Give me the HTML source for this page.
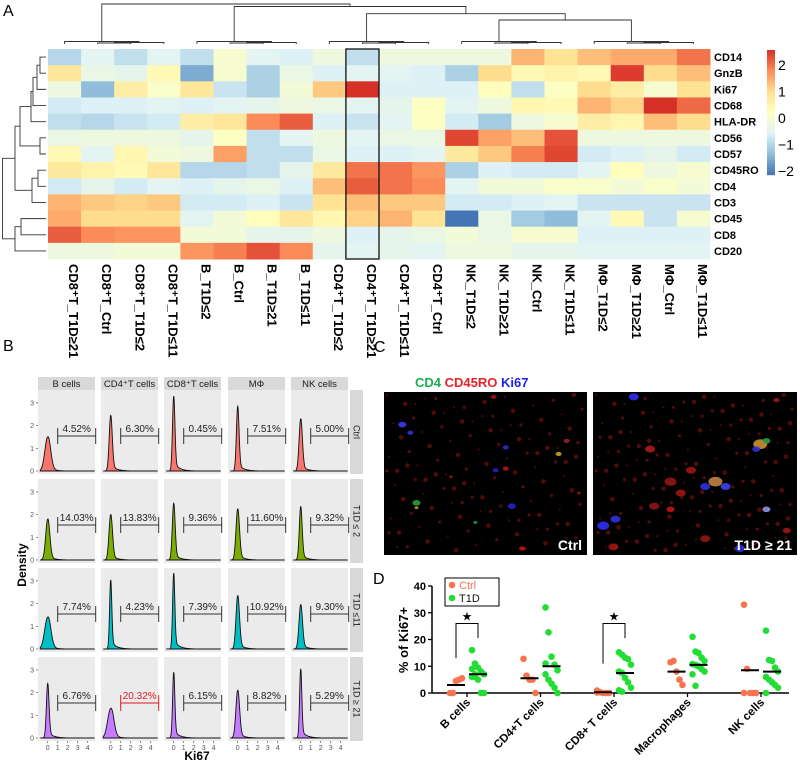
<!DOCTYPE html>
<html><head><meta charset="utf-8"><style>
body{margin:0;background:#fff;}
svg{display:block;font-family:"Liberation Sans",Arial,sans-serif;}
</style></head><body>
<svg id="fig" width="800" height="761" viewBox="0 0 800 761">
<g id="hm"></g>
<g id="pb"></g>
<g id="pc"></g>
<g id="pd"></g>
</svg>
<script>
// ---------- Panel A data ----------
const hmCols = ["CD8⁺T_T1D≥21","CD8⁺T_Ctrl","CD8⁺T_T1D≤2","CD8⁺T_T1D≤11","B_T1D≤2","B_Ctrl","B_T1D≥21","B_T1D≤11","CD4⁺T_T1D≤2","CD4⁺T_T1D≥21","CD4⁺T_T1D≤11","CD4⁺T_Ctrl","NK_T1D≤2","NK_T1D≥21","NK_Ctrl","NK_T1D≤11","MΦ_T1D≤2","MΦ_T1D≥21","MΦ_Ctrl","MΦ_T1D≤11"];
const hmRows = ["CD14","GnzB","Ki67","CD68","HLA-DR","CD56","CD57","CD45RO","CD4","CD3","CD45","CD8","CD20"];
const hmVals = [
[-1.1,-0.6,-1.0,-0.6,-1.0,-0.1,-0.6,-0.7,-0.3,-1.0,-0.3,-0.3,-0.3,-0.3,1.4,0.9,1.3,1.5,1.5,2.0],
[0.8,-0.4,-0.5,0.3,-1.7,-0.1,-1.2,-0.4,-0.7,-0.6,-0.6,-0.7,-1.2,1.0,0.3,0.5,0.3,2.5,1.0,1.3],
[-0.3,-1.5,0.6,0.0,0.8,-0.9,-1.2,-0.2,1.2,2.6,-0.7,-0.7,-0.7,0.2,-1.0,0.1,1.0,0.6,-0.1,0.9],
[-0.8,-0.7,-0.7,-0.6,-0.7,-0.6,-0.5,-0.3,-0.4,-0.6,-0.5,0.1,-0.6,-0.3,0.4,0.3,1.4,1.1,2.6,2.1],
[-1.0,-1.1,-0.9,-0.8,0.6,0.8,1.8,2.2,-0.7,-0.9,-0.6,0.1,-0.8,-1.3,-0.3,-0.1,0.6,0.4,1.3,1.0],
[-0.4,-0.3,-0.3,-0.3,-0.5,0.1,-1.0,-0.6,-0.3,-0.6,-0.4,-0.4,2.4,1.6,1.3,2.3,-0.3,-0.3,-0.3,-0.3],
[0.3,-0.6,0.4,-0.2,-0.3,1.6,-1.0,-1.0,-0.4,-0.7,-0.7,-0.6,0.7,1.2,1.9,2.4,-0.8,-0.7,-0.5,-0.8],
[0.7,0.5,0.3,0.8,-1.1,-1.1,-1.0,-0.5,0.7,2.0,2.0,1.7,-1.2,-0.7,-0.8,-0.8,-0.6,0.2,-0.3,-0.1],
[-0.8,-0.5,-0.8,-0.6,-0.7,-0.5,-0.4,-0.7,1.3,2.2,2.0,1.8,-0.6,-0.2,-0.2,0.0,0.0,-0.2,0.0,-0.2],
[1.4,1.2,1.1,1.2,-0.8,-0.8,-0.7,-0.9,0.9,1.3,1.2,1.2,-0.8,-0.8,-0.7,-0.6,-0.9,-0.9,-0.9,-0.9],
[1.5,1.0,1.0,1.0,-0.6,-0.2,0.2,0.8,0.4,1.1,1.4,0.9,-2.3,-0.4,-1.3,-1.5,-0.6,0.3,-0.9,-0.1],
[2.2,1.8,1.7,1.7,-0.2,-0.2,-0.5,-0.5,-0.3,-0.7,-0.5,-0.4,-0.2,-0.4,-0.1,-0.1,-0.7,-0.7,-0.7,-0.7],
[-0.3,-0.3,-0.2,-0.2,1.7,1.9,2.3,1.8,-0.5,-0.6,-0.5,-0.6,-0.3,-0.3,-0.5,-0.5,-0.6,-0.6,-0.6,-0.6]];
const cbTicks = [2,1,0,-1,-2];

// ---------- Panel B data ----------
const cellTypes = ["B cells","CD4⁺T cells","CD8⁺T cells","MΦ","NK cells"];
const groups = ["Ctrl","T1D ≤ 2","T1D ≤11","T1D ≥ 21"];
const peakH = [[1.5,2.45,3.3,2.85,2.3],[1.8,2.0,2.5,2.25,2.35],[1.4,3.05,3.35,2.35,1.95],[2.4,1.3,2.9,2.1,3.05]];
const peakW = [[0.28,0.15,0.12,0.13,0.16],[0.2,0.17,0.14,0.17,0.14],[0.3,0.11,0.11,0.17,0.17],[0.13,0.3,0.11,0.18,0.11]];
const pctLabels = [["4.52%","6.30%","0.45%","7.51%","5.00%"],["14.03%","13.83%","9.36%","11.60%","9.32%"],["7.74%","4.23%","7.39%","10.92%","9.30%"],["6.76%","20.32%","6.15%","8.82%","5.29%"]];
const densTicks = [0,1,2,3];
const ki67Ticks = [0,1,2,3,4];

// ---------- Panel D data ----------
const dCats = ["B cells","CD4+T cells","CD8+ T cells","Macrophages","NK cells"];
const ctrlVals = [[0,0,4.5,5,5.5],[12.8,6.5,5,5,0],[0.9,0.3,0,0,0,0.2],[11.5,12,8,5,3],[33,9,0,0,0,0]];
const t1dVals = [[16,11,9.5,8,7,6,6,5,0,0,9,7],[32,22.7,13.6,10.6,8.5,7,5,3.5,2,0,11],[15.2,14.3,13.2,12.7,10.6,8,7.5,5.7,4,2,1,0.5],[21,15.5,15,13.2,12,10.8,10.5,10,9,8,7,2.7],[23.3,12.3,12,9.5,8,6,5,4,3,2,0]];
const ctrlMeans = [3,5.5,0.3,8,8.5];
const t1dMeans = [7,10,7.5,10.5,8];
const dTicks = [0,10,20,30,40];

const NS="http://www.w3.org/2000/svg";
function mk(tag,attrs,parent,txt){const e=document.createElementNS(NS,tag);for(const k in attrs)e.setAttribute(k,attrs[k]);if(txt!==undefined)e.textContent=txt;parent.appendChild(e);return e;}

// ===== Panel A =====
const hm=document.getElementById('hm');
let t=mk('text',{x:3,y:16,'font-size':16},hm,'A');


const HX=48,HY=49,CW=(710-48)/20,RH=(259-49)/13;
const pal=["#4575B4","#91BFDB","#E0F3F8","#FFFFBF","#FEE090","#FC8D59","#D73027"];
const vmin=-2.3,vmax=2.6;
function hx(c){return [parseInt(c.slice(1,3),16),parseInt(c.slice(3,5),16),parseInt(c.slice(5,7),16)];}
function col(v){let f=(v-vmin)/(vmax-vmin);f=Math.max(0,Math.min(1,f))*6;const i=Math.min(5,Math.floor(f)),r=f-i;const a=hx(pal[i]),b=hx(pal[i+1]);return 'rgb('+a.map((x,k)=>Math.round(x+(b[k]-x)*r)).join(',')+')';}
hmRows.forEach((rn,r)=>{
  hmCols.forEach((cn,c)=>{
    const e=mk('rect',{x:HX+c*CW,y:HY+r*RH,width:CW+0.5,height:RH+0.5,fill:col(hmVals[r][c])},hm);
    
    
  });
  const l=mk('text',{x:714,y:HY+r*RH+RH/2+4,'font-size':11,'font-weight':'bold'},hm,rn);
  
  
});
hmCols.forEach((cn,c)=>{
  const x=HX+c*CW+CW/2+4.5;
  const l=mk('text',{x:x,y:264,'font-size':13,'font-weight':'bold',transform:'rotate(90 '+x+' 264)'},hm,cn);
  
  
});
let box=mk('rect',{x:HX+9*CW,y:HY,width:CW,height:259-HY,fill:'none',stroke:'#111','stroke-width':1.3},hm);


const cb=mk('g',{},hm);


for(let i=0;i<125;i++){const v=vmax-(vmax-vmin)*i/124;mk('rect',{x:767,y:50+i,width:8,height:1.2,fill:col(v)},cb);}
cbTicks.forEach(v=>{const y=118-v*26.5;const l=mk('text',{x:778,y:y+5,'font-size':14},cb,v<0?'−'+(-v):String(v));

});
const dg=mk('g',{stroke:'#333','stroke-width':0.9,fill:'none'},hm);


function cx(c){return HX+c*CW+CW/2;}
function uL(x1,y1,x2,y2,yt){mk('path',{d:`M${x1} ${y1}V${yt}H${x2}V${y2}`},dg);}
const gc=[];
for(let g=0;g<5;g++){const b=g*4;
  uL(cx(b+1),44,cx(b+2),44,43);
  const m12=(cx(b+1)+cx(b+2))/2;
  uL(m12,43,cx(b+3),44,42.5);
  const m=(m12+cx(b+3))/2;
  uL(cx(b),44,m,42.5,41.5);
  gc.push((cx(b)+m)/2);}
uL(gc[3],41.5,gc[4],41.5,20);
const nkm=(gc[3]+gc[4])/2;
uL(gc[2],41.5,nkm,20,13.7);
const r2=(gc[2]+nkm)/2;
uL(gc[1],41.5,r2,13.7,6.5);
const r1=(gc[1]+r2)/2;
uL(gc[0],41.5,r1,6.5,4);
const lg=mk('g',{stroke:'#333','stroke-width':0.9,fill:'none'},hm);


function ry(r){return HY+r*RH+RH/2;}
function cL(y1,x1,y2,x2,xt){mk('path',{d:`M${x1} ${y1}H${xt}V${y2}H${x2}`},lg);}
cL(ry(0),46,ry(1),46,40);let a=(ry(0)+ry(1))/2;
cL(a,40,ry(2),46,37);a=(a+ry(2))/2;
cL(a,37,ry(3),46,33);a=(a+ry(3))/2;
cL(a,33,ry(4),46,31);const u5=(a+ry(4))/2;
cL(ry(5),46,ry(6),46,40);const u2=(ry(5)+ry(6))/2;
cL(u5,31,u2,40,20);const U=(u5+u2)/2;
cL(ry(7),46,ry(8),46,38);let b1=(ry(7)+ry(8))/2;
cL(b1,38,ry(9),46,32);const L1=(b1+ry(9))/2;
cL(U,20,L1,32,15);const UL=(U+L1)/2;
cL(ry(10),46,ry(11),46,21);let c1=(ry(10)+ry(11))/2;
cL(c1,21,ry(12),46,15);const L2=(c1+ry(12))/2;
cL(UL,15,L2,15,2.5);

// ===== Panel B =====
const pb=document.getElementById('pb');
t=mk('text',{x:3,y:351,'font-size':16},pb,'B');


const colL=[38,101,164,228,291],rowT=[390,479,568,657],PW=57,PH=84;
const fills=["#F8766D","#7CAE00","#00BFC4","#C77CFF"];
cellTypes.forEach((ct,c)=>{
  const s=mk('rect',{x:colL[c],y:377,width:PW,height:13,fill:'#d9d9d9'},pb);
  
  
  const l=mk('text',{x:colL[c]+PW/2,y:387,'font-size':9.5,'text-anchor':'middle',fill:'#1a1a1a'},pb,ct);
  
  
  ki67Ticks.forEach(k=>{const x=colL[c]+9.7+k*10;
    mk('line',{x1:x,x2:x,y1:741,y2:743,stroke:'#555','stroke-width':0.7},pb);
    const tl=mk('text',{x:x,y:750,'font-size':7,'text-anchor':'middle',fill:'#555'},pb,String(k));
    
    });
});
groups.forEach((g,r)=>{
  const s=mk('rect',{x:350,y:rowT[r],width:13,height:PH,fill:'#d9d9d9'},pb);
  
  
  const yc=rowT[r]+PH/2;
  const l=mk('text',{x:356.5,y:yc,'font-size':9,'text-anchor':'middle',transform:`rotate(90 356.5 ${yc}) translate(0 3)`,fill:'#1a1a1a'},pb,g);
  
  
  densTicks.forEach(d=>{const y=rowT[r]+81-d*22.7;
    mk('line',{x1:36,x2:38,y1:y,y2:y,stroke:'#555','stroke-width':0.7},pb);
    const tl=mk('text',{x:34,y:y+2.5,'font-size':7,'text-anchor':'end',fill:'#555'},pb,String(d));
    
    });
  cellTypes.forEach((ct,c)=>{
    const px=colL[c],py=rowT[r];
    const bg=mk('rect',{x:px,y:py,width:PW,height:PH,fill:'#ebebeb'},pb);
    
    
    const X=k=>px+9.7+k*10,Y=d=>py+81-d*22.7;
    const h=peakH[r][c],w=peakW[r][c];
    let pts=[];
    for(let k=-0.75;k<=4.7;k+=0.03){
      let d=h*Math.exp(-(k*k)/(2*w*w))+0.12*h*Math.exp(-Math.max(k,0)/0.5)*(k>0?1:0)*Math.min(1,k*4);
      pts.push(X(k).toFixed(1)+','+Y(d).toFixed(1));}
    const poly=mk('path',{d:'M'+X(-0.75)+','+Y(0)+'L'+pts.join('L')+'L'+X(4.7)+','+Y(0)+'Z',fill:fills[r],stroke:'#111','stroke-width':0.9},pb);
    
    
    const red=(r===3&&c===1);
    const bc=red?'#e31a1c':'#333';
    const by=py+81-35;
    mk('path',{d:`M${X(1)} ${by-8}V${by+8}M${X(1)} ${by}H${X(4.8)}M${X(4.8)} ${by-8}V${by+8}`,stroke:bc,'stroke-width':1,fill:'none'},pb);
    const pl=mk('text',{x:(X(1)+X(4.8))/2,y:by-4,'font-size':10,'text-anchor':'middle',fill:red?'#e31a1c':'#222'},pb,pctLabels[r][c]);
    
    
  });
});
t=mk('text',{x:26,y:565,'font-size':12,'font-weight':'bold','text-anchor':'middle',transform:'rotate(-90 26 565)'},pb,'Density');


t=mk('text',{x:197,y:760,'font-size':12,'font-weight':'bold','text-anchor':'middle'},pb,'Ki67');



// ===== Panel C =====
const pc=document.getElementById('pc');
t=mk('text',{x:374,y:352,'font-size':16},pc,'C');


const tt=mk('text',{x:415,y:387,'font-size':13,'font-weight':'bold'},pc);


mk('tspan',{fill:'#1fae4f'},tt,'CD4 ');mk('tspan',{fill:'#e8232b'},tt,' CD45RO ');mk('tspan',{fill:'#2323e6'},tt,' Ki67');
function micro(x,w,name,label,dots,nRed){
  const g=mk('g',{},pc);
  
  
  mk('rect',{x:x,y:392,width:w,height:163,fill:'#000'},g);
  for(let i=0;i<nRed;i++){const fx=((i*37)%97)/97,fy=((i*61)%89)/89;
    mk('circle',{cx:x+3+fx*(w-6),cy:395+fy*157,r:1+(i%3)*0.6,fill:'#6a0c0c',opacity:0.8},g);}
  dots.forEach(d=>mk('ellipse',{cx:x+d[0]*w,cy:392+d[1]*163,rx:d[2],ry:d[2]*0.7,fill:d[3],opacity:0.9},g));
  const l=mk('text',{x:x+w-5,y:550,'font-size':14,'font-weight':'bold',fill:'#fff','text-anchor':'end'},g,label);
  
  
}
micro(384,203,'ctrl-image','Ctrl',[[0.09,0.2,4,'#3a3af0'],[0.13,0.25,3,'#3030e0'],[0.54,0.03,3,'#a01010'],[0.9,0.3,3,'#a02020'],[0.6,0.34,3,'#3030c0'],[0.86,0.38,3,'#d0a020'],[0.55,0.48,3,'#2020c0'],[0.6,0.47,3,'#b01515'],[0.33,0.52,2,'#801818'],[0.16,0.68,4,'#30a040'],[0.16,0.71,2,'#c0a020'],[0.63,0.7,4,'#2020d0'],[0.45,0.8,2,'#20a040'],[0.68,0.96,3,'#c01515'],[0.96,0.62,2,'#801818']],120);
micro(593,204,'t1d-image','T1D ≥ 21',[[0.2,0.03,5,'#3030f0'],[0.28,0.35,5,'#b01818'],[0.82,0.32,7,'#d09030'],[0.85,0.3,4,'#30a040'],[0.8,0.35,4,'#3030e0'],[0.6,0.55,7,'#c08040'],[0.55,0.58,5,'#3030e0'],[0.65,0.58,5,'#4040f0'],[0.48,0.48,5,'#a01515'],[0.38,0.55,6,'#901515'],[0.43,0.62,5,'#a01515'],[0.05,0.82,6,'#3030f0'],[0.11,0.78,5,'#3030e0'],[0.38,0.72,4,'#c01515'],[0.3,0.7,5,'#901515'],[0.72,0.96,5,'#3030e0'],[0.85,0.72,4,'#9090e0'],[0.1,0.95,5,'#a01515'],[0.9,0.05,3,'#a01818'],[0.95,0.85,4,'#a01818'],[0.55,0.9,5,'#901515']],160);

// ===== Panel D =====
const pd=document.getElementById('pd');
t=mk('text',{x:373,y:584,'font-size':16},pd,'D');


const AX=432,Y0=693;
const yS=v=>Y0-v*2.675;
const catX=i=>467+i*73.5;
mk('line',{x1:AX,x2:AX,y1:yS(40),y2:Y0,stroke:'#000','stroke-width':1.5},pd);
mk('line',{x1:AX,x2:789,y1:Y0,y2:Y0,stroke:'#000','stroke-width':1.5},pd);
dTicks.forEach(v=>{mk('line',{x1:AX-4,x2:AX,y1:yS(v),y2:yS(v),stroke:'#000','stroke-width':1.3},pd);
  const l=mk('text',{x:AX-6,y:yS(v)+4,'font-size':11,'font-weight':'bold','text-anchor':'end'},pd,String(v));
  
  });
t=mk('text',{x:408,y:640,'font-size':13,'font-weight':'bold','text-anchor':'middle',transform:'rotate(-90 408 640)'},pd,'% of Ki67+');


function dots(vals,x,color,nm){vals.forEach((v,i)=>{const j=((i%5)-2)*3;
  const c=mk('circle',{cx:x+j,cy:yS(v),r:3.3,fill:color},pd);
  
  });}
dCats.forEach((cat,i)=>{
  const xc=catX(i)-11,xt=catX(i)+11;
  mk('line',{x1:catX(i),x2:catX(i),y1:Y0,y2:Y0+4,stroke:'#000','stroke-width':1.3},pd);
  dots(ctrlVals[i],xc,'#f8734f','ctrl-point');
  dots(t1dVals[i],xt,'#22dd33','t1d-point');
  let m=mk('line',{x1:xc-9,x2:xc+9,y1:yS(ctrlMeans[i]),y2:yS(ctrlMeans[i]),stroke:'#000','stroke-width':2},pd);
  
  
  m=mk('line',{x1:xt-9,x2:xt+9,y1:yS(t1dMeans[i]),y2:yS(t1dMeans[i]),stroke:'#000','stroke-width':2},pd);
  
  
  const x=catX(i)+4,y=Y0+10;
  const l=mk('text',{x:x,y:y,'font-size':11.5,'font-weight':'bold','text-anchor':'end',transform:`rotate(-45 ${x} ${y})`},pd,cat);
  
  
});
[[0,13,20.5],[2,11,20.5]].forEach(s=>{const i=s[0];const xl=catX(i)-11,xr=catX(i)+11,top=26;
  const p=mk('path',{d:`M${xl} ${yS(s[1])}V${yS(top)}H${xr}V${yS(s[2])}`,stroke:'#000','stroke-width':1,fill:'none'},pd);
  
  
  const st=mk('text',{x:catX(i),y:yS(top)-3,'font-size':12,'text-anchor':'middle'},pd,'★');
  
  });
const lg2=mk('g',{},pd);


mk('rect',{x:445,y:578,width:54,height:28,fill:'#fff',stroke:'#000','stroke-width':1},lg2);
mk('circle',{cx:452,cy:585,r:3.3,fill:'#f8734f'},lg2);
mk('circle',{cx:452,cy:598,r:3.3,fill:'#22dd33'},lg2);
let le=mk('text',{x:459,y:589,'font-size':11,fill:'#f8734f'},lg2,'Ctrl');


le=mk('text',{x:459,y:602,'font-size':11,fill:'#111'},lg2,'T1D');


</script>
</body></html>
